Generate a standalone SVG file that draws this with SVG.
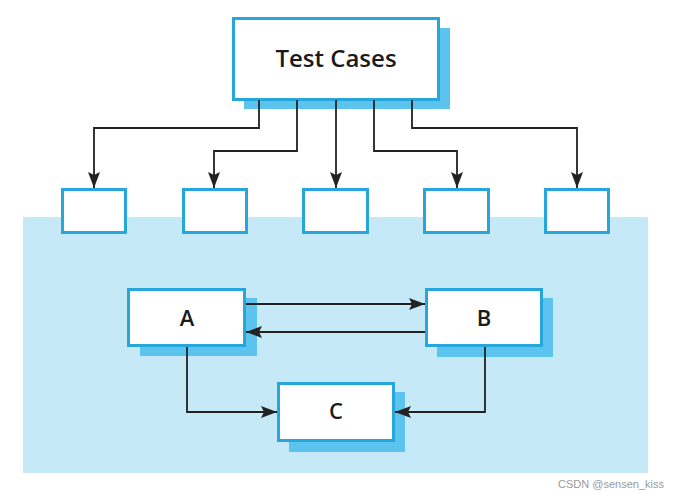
<svg xmlns="http://www.w3.org/2000/svg" width="678" height="498" viewBox="0 0 678 498">
<style>
.box{fill:#ffffff;stroke:#27a6dc;stroke-width:3}
.shadow{fill:#5cc2ee}
.line{fill:none;stroke:#222222;stroke-width:1.8}
.lbl{font-family:"Open Sans","Liberation Sans",sans-serif;font-weight:600;fill:#1a1a1a;text-anchor:middle}
</style>
<defs>
<marker id="arr" markerUnits="userSpaceOnUse" markerWidth="16" markerHeight="12" refX="16" refY="6" orient="auto">
<path d="M0,0 L16,6 L0,12 L3,6 Z" fill="#222222"/>
</marker>
</defs>
<rect x="0" y="0" width="678" height="498" fill="#ffffff"/>
<rect id="background" x="23" y="217" width="625" height="256" fill="#c6e9f8"/>
<g id="test-cases">
<rect class="shadow" x="244" y="28" width="206" height="81"/>
<rect class="box" x="233.5" y="18.5" width="205" height="81"/>
<text class="lbl" x="336" y="67" font-size="24">Test Cases</text>
</g>
<g id="tc1"><rect class="box" x="62.5" y="189.5" width="63" height="43"/></g>
<g id="tc2"><rect class="box" x="183.5" y="189.5" width="63" height="43"/></g>
<g id="tc3"><rect class="box" x="303.5" y="189.5" width="64" height="43"/></g>
<g id="tc4"><rect class="box" x="424.5" y="189.5" width="64" height="43"/></g>
<g id="tc5"><rect class="box" x="545.5" y="189.5" width="63" height="43"/></g>
<g id="A">
<rect class="shadow" x="140" y="298" width="117" height="58"/>
<rect class="box" x="128.5" y="289.5" width="116" height="56"/>
<text class="lbl" x="187" y="326" font-size="22">A</text>
</g>
<g id="B">
<rect class="shadow" x="437" y="298" width="116" height="59"/>
<rect class="box" x="426.5" y="289.5" width="115" height="56"/>
<text class="lbl" x="484" y="326" font-size="22">B</text>
</g>
<g id="C">
<rect class="shadow" x="289" y="392" width="116" height="60"/>
<rect class="box" x="278.5" y="383.5" width="115" height="57"/>
<text class="lbl" x="336" y="419" font-size="22">C</text>
</g>
<g id="connectors">
<path class="line" d="M259,100 V128 H94 V188" marker-end="url(#arr)"/>
<path class="line" d="M297,100 V151 H214 V188" marker-end="url(#arr)"/>
<path class="line" d="M336,100 V188" marker-end="url(#arr)"/>
<path class="line" d="M374,100 V151 H457 V188" marker-end="url(#arr)"/>
<path class="line" d="M412,100 V128 H577 V188" marker-end="url(#arr)"/>
<path class="line" d="M246,304 H425" marker-end="url(#arr)"/>
<path class="line" d="M425,332 H246" marker-end="url(#arr)"/>
<path class="line" d="M187,347 V412 H277" marker-end="url(#arr)"/>
<path class="line" d="M485,347 V412 H395" marker-end="url(#arr)"/>
</g>
<text x="664" y="488" font-family="'Liberation Sans',sans-serif" font-size="11" fill="#9a9a9a" text-anchor="end">CSDN @sensen_kiss</text>
</svg>
